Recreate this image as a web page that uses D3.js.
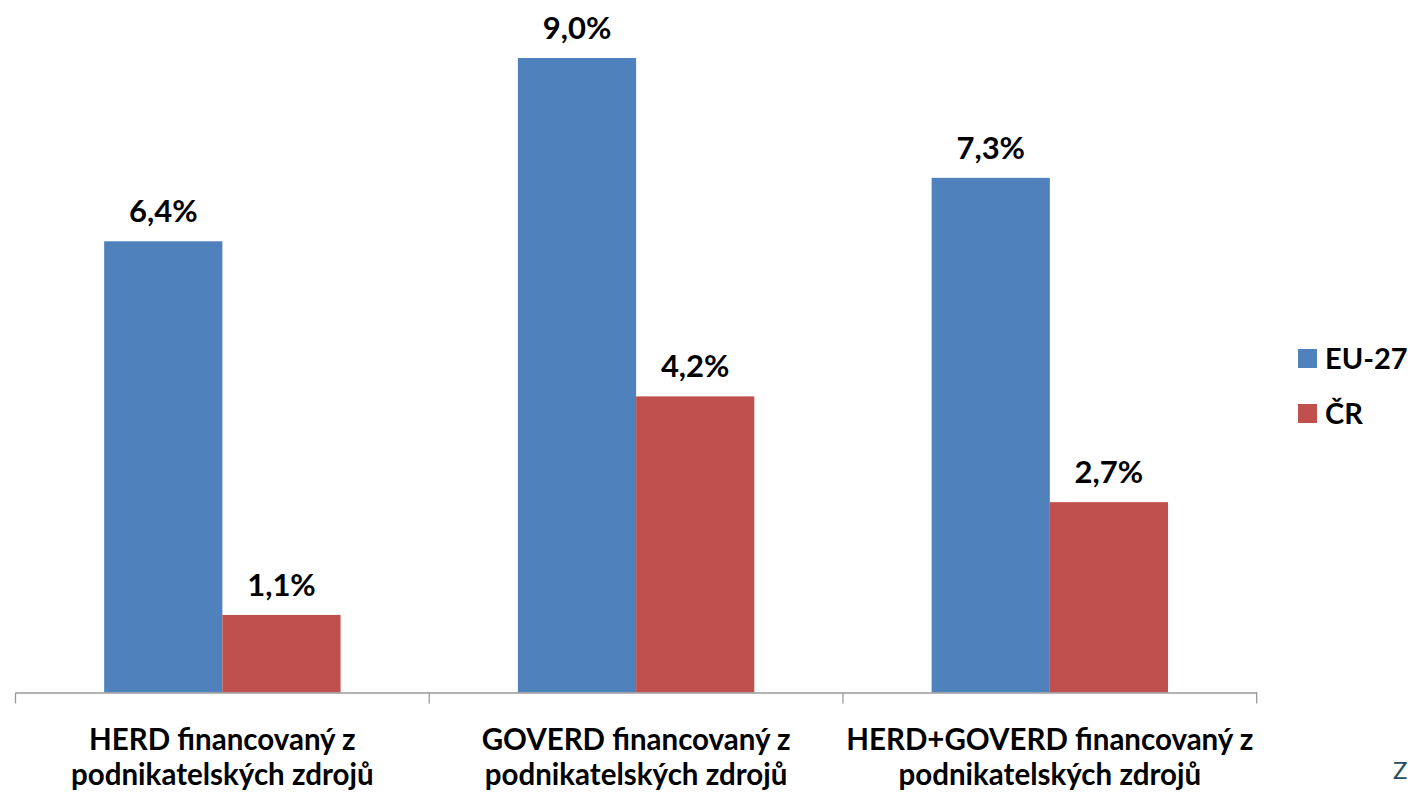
<!DOCTYPE html>
<html>
<head>
<meta charset="utf-8">
<script src="https://cdn.jsdelivr.net/npm/d3@7"></script>
<style>
  html, body { margin: 0; padding: 0; background: #fff; }
  svg { display: block; font-family: Lato, "Open Sans", sans-serif; }
</style>
</head>
<body>
<svg id="chart" width="1410" height="795"></svg>
<script>
// kategorie (dva řádky popisku)
const categories = ['HERD', 'GOVERD', 'HERD+GOVERD'];
const categoryLines = [
  ['HERD financovaný z', 'podnikatelských zdrojů'],
  ['GOVERD financovaný z', 'podnikatelských zdrojů'],
  ['HERD+GOVERD financovaný z', 'podnikatelských zdrojů']
];
const seriesNames = ['EU-27', 'ČR'];
const eu27 = [6.4, 9.0, 7.3];
const cr = [1.1, 4.2, 2.7];
const colors = ['#4F81BD', '#C0504D'];

const seriesValues = [eu27, cr];
const fmtPct = (v) => d3.format('.1f')(v).replace('.', ',') + '%';

const svg = d3.select('#chart');
const margin = { top: 58, left: 15.5, right: 1256.7, bottom: 692.5 };

const x = d3.scaleBand().domain(categories).range([margin.left, margin.right]).paddingInner(0).paddingOuter(0);
const x1 = d3.scaleBand().domain(seriesNames).range([0, x.bandwidth()]).paddingInner(0).paddingOuter(0.75);
const y = d3.scaleLinear().domain([0, 9]).range([margin.bottom, margin.top]);

// sloupce
const groups = svg.append('g')
  .selectAll('g')
  .data(categories)
  .join('g')
  .attr('transform', (d) => `translate(${x(d)},0)`);

groups.selectAll('rect')
  .data((d, i) => seriesNames.map((s, j) => ({ s, v: seriesValues[j][i], j })))
  .join('rect')
  .attr('x', (d) => x1(d.s))
  .attr('width', x1.bandwidth())
  .attr('y', (d) => y(d.v))
  .attr('height', (d) => y(0) - y(d.v))
  .attr('fill', (d) => colors[d.j]);

groups.selectAll('text.val')
  .data((d, i) => seriesNames.map((s, j) => ({ s, v: seriesValues[j][i], j })))
  .join('text')
  .attr('class', 'val')
  .attr('x', (d) => x1(d.s) + x1.bandwidth() / 2)
  .attr('y', (d) => y(d.v) - 19)
  .attr('text-anchor', 'middle')
  .attr('font-size', 31)
  .attr('font-weight', 700)
  .attr('fill', '#000')
  .text((d) => fmtPct(d.v));

// osa x
const axisG = svg.append('g')
  .attr('transform', `translate(0,${margin.bottom})`)
  .call(d3.axisBottom(x).tickSize(0).tickFormat(''));
axisG.select('.domain').attr('stroke', '#9a9a9a').attr('stroke-width', 1.3);
axisG.selectAll('.tick').remove();

const bounds = categories.map((c) => x(c)).concat([x.range()[1]]);
axisG.selectAll('line.sep')
  .data(bounds)
  .join('line')
  .attr('class', 'sep')
  .attr('x1', (d) => d)
  .attr('x2', (d) => d)
  .attr('y1', 0)
  .attr('y2', 11)
  .attr('stroke', '#9a9a9a')
  .attr('stroke-width', 1.3);

const labels = svg.append('g')
  .selectAll('text')
  .data(categories)
  .join('text')
  .attr('text-anchor', 'middle')
  .attr('font-size', 29.5)
  .attr('font-weight', 700)
  .attr('fill', '#000');
labels.selectAll('tspan')
  .data((d, i) => categoryLines[i].map((t, k) => ({ t, k, c: d })))
  .join('tspan')
  .attr('x', (d) => x(d.c) + x.bandwidth() / 2)
  .attr('y', (d) => 750 + d.k * 35)
  .text((d) => d.t);

// legenda
const legend = svg.append('g').attr('transform', 'translate(1298,349)');
const li = legend.selectAll('g')
  .data(seriesNames)
  .join('g')
  .attr('transform', (d, i) => `translate(0,${i * 55})`);
li.append('rect').attr('width', 19).attr('height', 19).attr('fill', (d, i) => colors[i]);
li.append('text')
  .attr('x', 27)
  .attr('y', 20)
  .attr('font-size', 29)
  .attr('font-weight', 700)
  .attr('fill', '#000')
  .text((d) => d);

// zbytek textu zdroje v rohu
svg.append('text')
  .attr('x', 1393)
  .attr('y', 779)
  .attr('font-size', 24)
  .attr('fill', '#1f4e63')
  .text('Z');
</script>
</body>
</html>
